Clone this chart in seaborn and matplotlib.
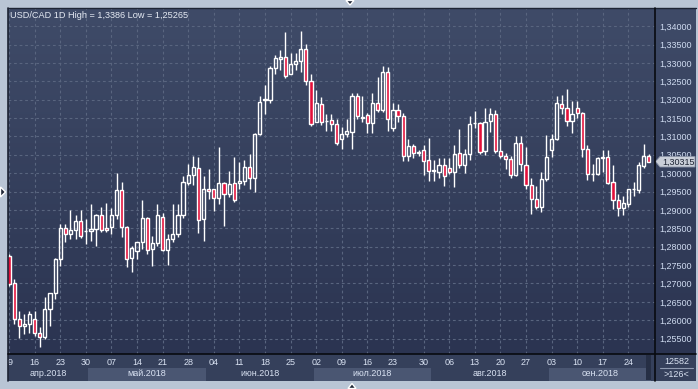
import matplotlib
matplotlib.use("Agg")
import matplotlib.pyplot as plt
import seaborn as sns
import numpy as np
import pandas as pd
from matplotlib.patches import Rectangle, Polygon

# ---------------- data ----------------
dates = list(pd.bdate_range("2018-04-09", "2018-09-28"))
dates.insert(80, pd.Timestamp("2018-07-29"))

opens = [1.2775, 1.2700, 1.2603, 1.2583, 1.2589, 1.2603, 1.2566, 1.2553, 1.2630, 1.2674,
         1.2766, 1.2851, 1.2835, 1.2846, 1.2871, 1.2842, 1.2842, 1.2848, 1.2885, 1.2851,
         1.2853, 1.2885, 1.2953, 1.2853, 1.2769, 1.2789, 1.2812, 1.2878, 1.2794, 1.2810,
         1.2882, 1.2791, 1.2821, 1.2835, 1.2885, 1.2973, 1.2994, 1.3015, 1.2876, 1.2957,
         1.2957, 1.2933, 1.2974, 1.2944, 1.2974, 1.2974, 1.2980, 1.3016, 1.2987, 1.3106,
         1.3198, 1.3198, 1.3285, 1.3311, 1.3315, 1.3271, 1.3296, 1.3306, 1.3339, 1.3250,
         1.3139, 1.3189, 1.3142, 1.3144, 1.3133, 1.3094, 1.3107, 1.3112, 1.3209, 1.3151,
         1.3159, 1.3137, 1.3192, 1.3171, 1.3274, 1.3123, 1.3173, 1.3155, 1.3047, 1.3075,
         1.3056, 1.3062, 1.3037, 1.3007, 1.3003, 1.3023, 1.3015, 1.3003, 1.3055, 1.3023,
         1.3053, 1.3136, 1.3136, 1.3060, 1.3142, 1.3160, 1.3059, 1.3047, 1.3038, 1.2994,
         1.3083, 1.3021, 1.2968, 1.2930, 1.2907, 1.2985, 1.3064, 1.3093, 1.3187, 1.3178,
         1.3142, 1.3176, 1.3165, 1.3067, 1.2998, 1.2998, 1.3042, 1.3044, 1.2975, 1.2928,
         1.2906, 1.2917, 1.2956, 1.2955, 1.3019, 1.3046]

highs = [1.2781, 1.2712, 1.2625, 1.2617, 1.2625, 1.2625, 1.2582, 1.2662, 1.2675, 1.2769,
         1.2862, 1.2862, 1.2901, 1.2887, 1.2901, 1.2876, 1.2915, 1.2889, 1.2907, 1.2918,
         1.2906, 1.3000, 1.2977, 1.2856, 1.2803, 1.2812, 1.2926, 1.2880, 1.2830, 1.2915,
         1.2892, 1.2835, 1.2917, 1.2917, 1.2991, 1.3024, 1.3048, 1.3044, 1.2991, 1.3010,
         1.2958, 1.3071, 1.2975, 1.3005, 1.3044, 1.3030, 1.3037, 1.3053, 1.3110, 1.3209,
         1.3239, 1.3292, 1.3321, 1.3335, 1.3383, 1.3326, 1.3328, 1.3386, 1.3351, 1.3269,
         1.3226, 1.3207, 1.3162, 1.3162, 1.3148, 1.3125, 1.3147, 1.3217, 1.3217, 1.3209,
         1.3163, 1.3219, 1.3262, 1.3291, 1.3289, 1.3192, 1.3189, 1.3163, 1.3092, 1.3078,
         1.3062, 1.3077, 1.3097, 1.3035, 1.3040, 1.3040, 1.3042, 1.3076, 1.3121, 1.3066,
         1.3155, 1.3170, 1.3139, 1.3176, 1.3176, 1.3171, 1.3094, 1.3056, 1.3047, 1.3101,
         1.3101, 1.3070, 1.2988, 1.2966, 1.3003, 1.3103, 1.3107, 1.3211, 1.3212, 1.3228,
         1.3196, 1.3197, 1.3166, 1.3076, 1.3026, 1.3044, 1.3062, 1.3062, 1.3021, 1.2944,
         1.2937, 1.2958, 1.2975, 1.3030, 1.3080, 1.3051]

lows = [1.2694, 1.2589, 1.2552, 1.2563, 1.2565, 1.2557, 1.25265, 1.2549, 1.2585, 1.2657,
        1.2748, 1.2812, 1.2821, 1.2821, 1.2825, 1.2807, 1.2816, 1.2803, 1.2839, 1.2839,
        1.2835, 1.2876, 1.2827, 1.2744, 1.2730, 1.2766, 1.2794, 1.2780, 1.2748, 1.2803,
        1.2789, 1.2751, 1.2812, 1.2827, 1.2877, 1.2969, 1.2968, 1.2837, 1.2816, 1.2930,
        1.2898, 1.2917, 1.2857, 1.2935, 1.2921, 1.2957, 1.2969, 1.2956, 1.2948, 1.3103,
        1.3162, 1.3192, 1.3269, 1.3282, 1.3260, 1.3269, 1.3280, 1.3276, 1.3241, 1.3128,
        1.3139, 1.3130, 1.3116, 1.3116, 1.3076, 1.3065, 1.3098, 1.3065, 1.3148, 1.3139,
        1.3109, 1.3109, 1.3166, 1.3166, 1.3115, 1.3115, 1.3138, 1.3032, 1.3032, 1.3042,
        1.3048, 1.2994, 1.2980, 1.2979, 1.2988, 1.2966, 1.2998, 1.2962, 1.3013, 1.3001,
        1.3037, 1.3123, 1.3053, 1.3050, 1.3112, 1.3056, 1.3040, 1.3012, 1.2987, 1.2991,
        1.3007, 1.2958, 1.2888, 1.2903, 1.2894, 1.2980, 1.3044, 1.3090, 1.3161, 1.3129,
        1.3109, 1.3151, 1.3044, 1.2981, 1.2980, 1.2994, 1.3003, 1.2971, 1.2902, 1.2883,
        1.2885, 1.2907, 1.2939, 1.2947, 1.3015, 1.3030]

closes = [1.2698, 1.2603, 1.2585, 1.2589, 1.2616, 1.2566, 1.2553, 1.2630, 1.2674, 1.2766,
          1.2851, 1.2835, 1.2846, 1.2871, 1.2828, 1.2844, 1.2848, 1.2885, 1.2846, 1.2846,
          1.2885, 1.2953, 1.2853, 1.2766, 1.2796, 1.2812, 1.2878, 1.2791, 1.2810, 1.2887,
          1.2791, 1.2821, 1.2835, 1.2885, 1.2975, 1.2994, 1.3016, 1.2873, 1.2957, 1.2952,
          1.2933, 1.2974, 1.2944, 1.2971, 1.2926, 1.2980, 1.3016, 1.2987, 1.3107, 1.3194,
          1.3201, 1.3285, 1.3312, 1.3315, 1.3265, 1.3297, 1.3304, 1.3339, 1.3250, 1.3135,
          1.3190, 1.3139, 1.3143, 1.3133, 1.3082, 1.3106, 1.3114, 1.3209, 1.3155, 1.3153,
          1.3137, 1.3192, 1.3171, 1.3274, 1.3146, 1.3173, 1.3155, 1.3047, 1.3075, 1.3056,
          1.3057, 1.3034, 1.3005, 1.3008, 1.3023, 1.2992, 1.3003, 1.3053, 1.3023, 1.3053,
          1.3135, 1.3137, 1.3058, 1.3140, 1.3160, 1.3060, 1.3047, 1.3039, 1.2996, 1.3083,
          1.3026, 1.2968, 1.2930, 1.2907, 1.2985, 1.3045, 1.3092, 1.3190, 1.3178, 1.3142,
          1.3160, 1.3165, 1.3067, 1.2998, 1.2999, 1.3042, 1.3044, 1.2974, 1.2928, 1.2906,
          1.2918, 1.2957, 1.2957, 1.3021, 1.3046, 1.30315]

month_numbers = [4, 5, 6, 7, 8, 9]
month_labels = ["апр.2018", "май.2018", "июн.2018", "июл.2018", "авг.2018", "сен.2018"]
price_ticks = [1.255, 1.260, 1.265, 1.270, 1.275, 1.280, 1.285, 1.290, 1.295,
               1.300, 1.305, 1.310, 1.315, 1.320, 1.325, 1.330, 1.335, 1.340]
title_text = "USD/CAD 1D High = 1,3386 Low = 1,25265"
last_price_text = "1,30315"
corner_top_text = "12582"
corner_bottom_text = ">126<"

# ---------------- style ----------------
sns.set_theme(style="dark")
plt.rcParams["font.family"] = ["Liberation Sans", "DejaVu Sans"]

W, H = 698, 389
OUTER = "#b9c5d5"
BG_TOP = "#3f4b68"
BG_BOT = "#2b3451"
GRID = "#59657f"
AXIS_BG = "#35405b"
BAND = "#4a5672"
TXT = "#d9e2f2"
BEAR = "#e3103a"

fig = plt.figure(figsize=(W / 100, H / 100), dpi=100)
fig.patch.set_facecolor(OUTER)


def frame(x0, y0, x1, y1):
    return [x0 / W, 1 - y1 / H, (x1 - x0) / W, (y1 - y0) / H]


# gradient background for plot + price scale
bg = fig.add_axes(frame(8, 8, 696, 354))
bg.axis("off")
grad = np.linspace(0, 1, 256)[:, None]
from matplotlib.colors import LinearSegmentedColormap
cmap = LinearSegmentedColormap.from_list("bgc", [BG_TOP, BG_BOT])
bg.imshow(grad, aspect="auto", cmap=cmap, extent=[0, 1, 0, 1], origin="upper")

# main price axes
ax = fig.add_axes(frame(8, 8, 655, 354))
ax.set_facecolor("none")
n = len(opens)
x = np.arange(n)
o = np.array(opens); h = np.array(highs); l = np.array(lows); c = np.array(closes)
ax.set_xlim(-0.2, 126.2)
ax.set_ylim(1.25081, 1.34493)
for s in ax.spines.values():
    s.set_visible(False)

mondays = [i for i, d in enumerate(dates) if d.weekday() == 0]
for i in mondays:
    ax.axvline(i, color=GRID, lw=0.8, ls=(0, (2.5, 2.5)), zorder=1)
for p in price_ticks:
    ax.axhline(p, color=GRID, lw=0.8, ls=(0, (2.5, 2.5)), zorder=1)

top = np.maximum(o, c)
bot = np.minimum(o, c)
hgt = np.maximum(top - bot, 0.00004)
up = c >= o
ax.vlines(x, top, h, color="white", lw=1.0, zorder=3)
ax.vlines(x, l, bot, color="white", lw=1.0, zorder=3)
ax.bar(x[up], hgt[up], bottom=bot[up], width=0.62, facecolor="none",
       edgecolor="white", linewidth=1.0, zorder=4)
ax.bar(x[~up], hgt[~up], bottom=bot[~up], width=0.62, facecolor=BEAR,
       edgecolor="white", linewidth=1.0, zorder=4)

ax.yaxis.tick_right()
ax.set_yticks(price_ticks)
ax.set_yticklabels([f"{p:.5f}".replace(".", ",") for p in price_ticks])
ax.tick_params(axis="y", length=0, pad=3, labelsize=6.5, labelcolor="#cfdbf0")
ax.set_xticks([])

ax.text(2 / 647, 1 - 8 / 346, title_text, transform=ax.transAxes, ha="left",
        va="center", fontsize=6.6, color="#e6ebf4")

# date axis
dax = fig.add_axes(frame(8, 354, 655, 381))
dax.set_facecolor(AXIS_BG)
dax.set_xlim(-0.2, 126.2)
dax.set_ylim(0, 1)
dax.set_xticks([]); dax.set_yticks([])
for s in dax.spines.values():
    s.set_visible(False)
months = np.array([d.month for d in dates])
for k, (mn, lab) in enumerate(zip(month_numbers, month_labels)):
    idx = np.where(months == mn)[0]
    a = max(idx[0] - 0.5, -0.2)
    b = min(idx[-1] + 0.5, 126.2)
    if k % 2 == 1:
        dax.add_patch(Rectangle((a, 0), b - a, 0.5, facecolor=BAND, edgecolor="none"))
    dax.text((a + b) / 2, 0.27, lab, ha="center", va="center", fontsize=6.5, color=TXT)
for i in mondays:
    dax.text(i, 0.68, dates[i].strftime("%d"), ha="center", va="center",
             fontsize=6.5, color=TXT, clip_on=True)

# right-bottom box
rax = fig.add_axes(frame(655, 354, 696, 381))
rax.set_facecolor(AXIS_BG)
rax.set_xticks([]); rax.set_yticks([])
for s in rax.spines.values():
    s.set_visible(False)

# overlay for frame lines and markers
ov = fig.add_axes([0, 0, 1, 1])
ov.set_xlim(0, W); ov.set_ylim(H, 0)
ov.axis("off")
ov.set_facecolor("none")
ov.plot([8, 8], [8, 381], color="#1d2434", lw=1.2)
ov.plot([8, 696], [8, 8], color="#1d2434", lw=1.0)
ov.plot([655, 655], [8, 381], color="#080a10", lw=1.2)
ov.plot([8, 696], [354, 354], color="#080a10", lw=1.2)
ov.add_patch(Rectangle((646, 355), 5, 25, facecolor="#262f45", edgecolor="none"))
ov.plot([660, 693], [368, 368], color="#8f9ab0", lw=0.8)
ov.text(677, 362, corner_top_text, ha="center", va="center", fontsize=6.5, color=TXT)
ov.text(676, 374.5, corner_bottom_text, ha="center", va="center", fontsize=6.5, color=TXT)
ov.add_patch(Polygon([(655.5, 161.5), (660, 156.5), (695, 156.5), (695, 167), (660, 167)],
                     closed=True, facecolor="#c9ced8", edgecolor="#8a93a6", lw=0.6))
ov.text(662, 162, last_price_text, ha="left", va="center", fontsize=6.5, color="#1c2333")
ov.add_patch(Polygon([(346, 0.5), (354, 0.5), (350, 5)], closed=True, facecolor="#1f2636"))
ov.add_patch(Polygon([(348, 388.5), (356, 388.5), (352, 383.5)], closed=True, facecolor="#1f2636"))
ov.add_patch(Polygon([(0.5, 187), (0.5, 197), (5.5, 192)], closed=True, facecolor="#1f2636"))

fig.savefig("out.png", dpi=100, facecolor=fig.get_facecolor())
